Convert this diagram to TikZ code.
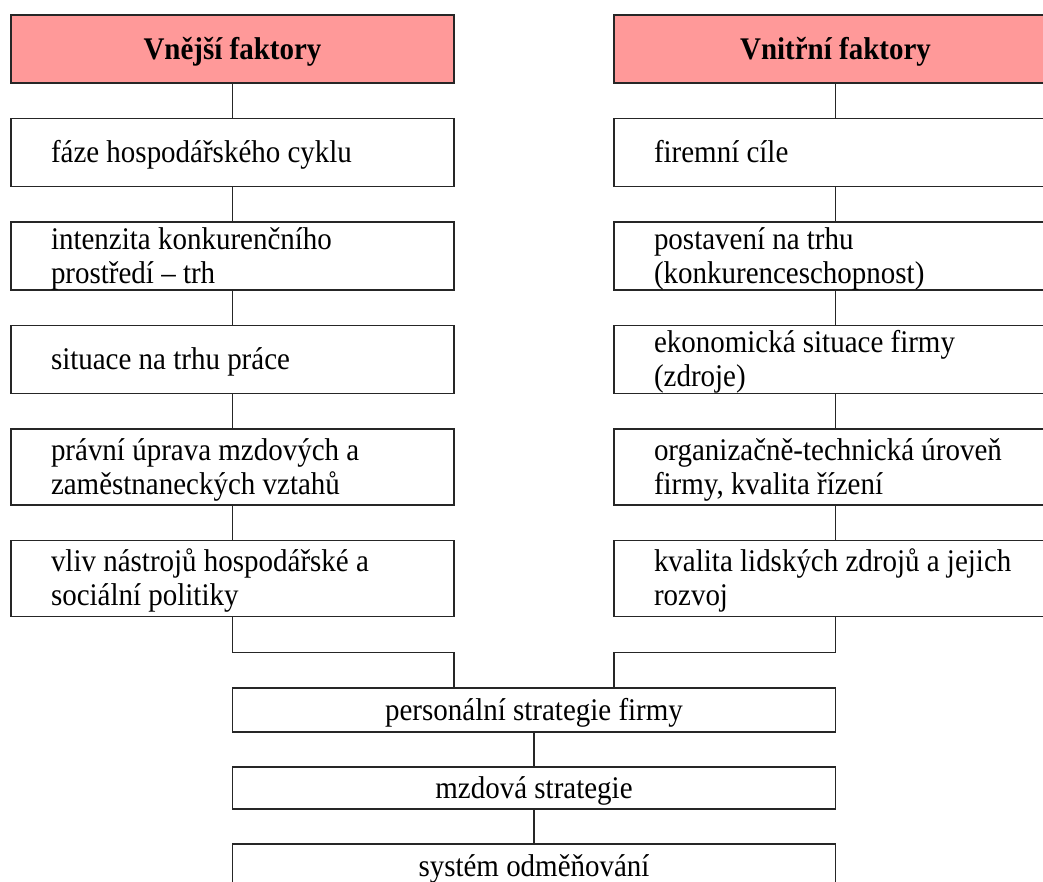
\documentclass[tikz,border=0pt]{standalone}
\usepackage{fontspec}
\setmainfont{Liberation Serif}[FakeStretch=0.92]
\usetikzlibrary{positioning,calc}
\definecolor{headpink}{HTML}{FF9999}

\begin{document}
\begin{tikzpicture}[node distance=17.75pt,line width=0.7pt,draw=black!85,
  every node/.style={draw=black!85, outer sep=0pt, font=\fontsize{15.75pt}{17pt}\selectfont},
  txt/.style={execute at begin node=\rule{0pt}{13.5pt}, execute at end node=\rule[-3pt]{0pt}{3pt}},
  head/.style={txt, fill=headpink, minimum width=221.5pt, minimum height=34pt, inner ysep=0pt, font=\fontsize{15.75pt}{17pt}\selectfont\bfseries},
  factor/.style={text width=221.5pt, inner xsep=0pt, inner ysep=0pt, align=left, minimum height=34pt,
    execute at begin node={\leftskip=20pt\spaceskip=0pt\xspaceskip=0pt\hyphenpenalty=10000\rule{0pt}{13.5pt}},
    execute at end node=\rule[-3pt]{0pt}{3pt}},
  tall/.style={factor, minimum height=38pt},
  wide/.style={txt, minimum width=301.5pt, inner ysep=0pt, minimum height=21pt}]

  \clip (0,0) rectangle (521.5pt,-441pt);

  % headers
  \node(LH)[head] at (116.25pt,-24.5pt) {Vnější faktory};
  \node(RH)[head,right=80pt of LH] {Vnitřní faktory};

  % external factors
  \node(L1)[factor,below=of LH] {fáze hospodářského cyklu};
  \node(L2)[factor,below=of L1] {intenzita konkurenčního\\prostředí – trh};
  \node(L3)[factor,below=of L2] {situace na trhu práce};
  \node(L4)[tall,below=of L3] {právní úprava mzdových a\\zaměstnaneckých vztahů};
  \node(L5)[tall,below=of L4] {vliv nástrojů hospodářské a\\sociální politiky};

  % internal factors
  \node(R1)[factor,below=of RH] {firemní cíle};
  \node(R2)[factor,below=of R1] {postavení na trhu\\(konkurenceschopnost)};
  \node(R3)[factor,below=of R2] {ekonomická situace firmy\\(zdroje)};
  \node(R4)[tall,below=of R3] {organizačně-technická úroveň\\firmy, kvalita řízení};
  \node(R5)[tall,below=of R4] {kvalita lidských zdrojů a jejich\\rozvoj};

  % strategy
  \coordinate(mid) at ($(L5.south)!.5!(R5.south)$);
  \node(P)[wide,below=35.75pt of mid,minimum height=22pt] {personální strategie firmy};
  \node(M)[wide,below=17.5pt of P] {mzdová strategie};
  \node(S)[wide,below=17.5pt of M,minimum height=22pt] {systém odměňování};

  \foreach \a/\b in {LH/L1,L1/L2,L2/L3,L3/L4,L4/L5,RH/R1,R1/R2,R2/R3,R3/R4,R4/R5,P/M,M/S}
    \draw (\a) -- (\b);

  \coordinate(jl) at ($(L5.south)!.5!(L5.south |- P.north)$);
  \coordinate(jr) at ($(R5.south)!.5!(R5.south |- P.north)$);
  \draw (L5.south) -- (jl) -| (P.north -| L5.east);
  \draw (R5.south) -- (jr) -| (P.north -| R5.west);
\end{tikzpicture}
\end{document}
